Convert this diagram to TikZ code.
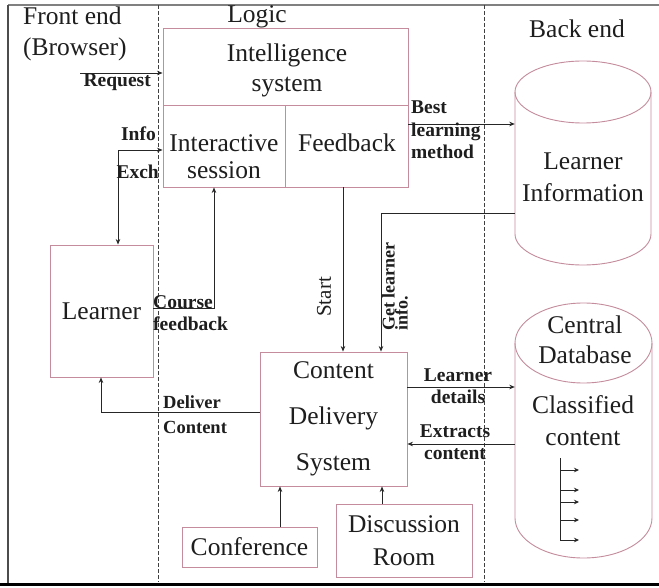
\documentclass[tikz,border=0pt]{standalone}
\usepackage{fontspec}
\setmainfont{Liberation Serif}
\usetikzlibrary{arrows.meta}
\definecolor{boxc}{RGB}{196,140,156}
\definecolor{txt}{RGB}{30,30,30}
\begin{document}
\begin{tikzpicture}[x=1pt,y=-1pt,
  box/.style={draw=boxc, line width=0.9pt, inner sep=0pt, text=txt},
  big/.style={font=\fontsize{25.5}{30}\selectfont, text=txt, inner sep=0pt, align=center},
  lbl/.style={font=\bfseries\fontsize{19.5}{22.5}\selectfont, text=txt, inner sep=0pt},
  conn/.style={draw=black!85, line width=0.9pt},
  arr/.style={conn, -{Stealth[length=5.5pt,width=4.5pt]}},
  cyl/.style={draw=boxc, line width=0.9pt},
  sep/.style={draw=black!75, line width=0.8pt, dash pattern=on 4pt off 2pt}]
\useasboundingbox (0,0) rectangle (659,588);
\fill[white] (0,0) rectangle (659,588);
% frame
\draw[gray, line width=1.6pt] (8,5) -- (659,5);
\draw[black!70, line width=1.2pt] (8,5) -- (8,583);
\draw[black, line width=3pt] (0,584) -- (659,584);
% swimlane separators
\draw[sep] (158,5) -- (158,582);
\draw[sep] (484,5) -- (484,582);
% headers
\node[big, anchor=west, align=left] (hfront) at (23,34) {Front end\\[1pt](Browser)};
\node[big] (hlogic) at (257,17) {Logic};
\node[big] (hback) at (577,29) {Back end};
% intelligence system
\node[box, minimum width=245pt, minimum height=77pt] (intel) at (285.5,66.5) {};
\node[big] (inteltxt) at (287,70) {Intelligence\\system};
\node[box, minimum width=122pt, minimum height=82pt] (isess) at (224,146) {};
\node[big, font=\fontsize{25.5}{27}\selectfont] (isesstxt) at (224,157) {Interactive\\session};
\node[box, minimum width=123pt, minimum height=82pt] (fb) at (346.5,146) {};
\node[big] (fbtxt) at (347,143) {Feedback};
% learner
\node[box, minimum width=103pt, minimum height=132pt, font=\fontsize{25.5}{30}\selectfont] (learner) at (101.5,311) {Learner};
% content delivery system
\node[box, minimum width=147pt, minimum height=134pt, align=center, font=\fontsize{25.5}{46}\selectfont] (cds) at (333.5,419) {Content\\Delivery\\System};
\node[box, minimum width=135pt, minimum height=40pt, font=\fontsize{25.5}{30}\selectfont] (conf) at (249.5,547) {Conference};
\node[box, minimum width=136pt, minimum height=73pt, align=center, font=\fontsize{25.5}{33}\selectfont] (disc) at (404,540.5) {Discussion\\Room};
% cylinder: learner information
\draw[cyl] (515,92) -- (515,234) arc[start angle=180, end angle=0, x radius=68, y radius=31] -- (651,92);
\draw[cyl] (583,92) ellipse [x radius=68, y radius=31];
\node[minimum width=136pt, minimum height=205pt, inner sep=0pt] (li) at (583,162.5) {};
\node[big, font=\fontsize{25.5}{32}\selectfont] (litxt) at (583,177) {Learner\\Information};
% cylinder: central database
\draw[cyl] (515,343) -- (515,518) arc[start angle=180, end angle=0, x radius=68.5, y radius=40] -- (652,343);
\draw[cyl] (583.5,343) ellipse [x radius=68.5, y radius=40];
\node[minimum width=137pt, minimum height=255pt, inner sep=0pt] (cdb) at (583.5,430.5) {};
\node[big] (cdbtop) at (585,340) {Central\\Database};
\node[big, font=\fontsize{25.5}{32}\selectfont] (cdbtxt) at (583,421) {Classified\\content};
% classified content arrows
\draw[conn, line width=0.8pt] (560,458) -- (560,540);
\foreach \yy in {470,490,502,520,540}
  \draw[conn, line width=0.8pt, -{Stealth[length=5pt,width=4.5pt]}] (560,\yy) -- (579,\yy);
% coordinates for connector bends
\coordinate (req) at (80,73);
\coordinate (ie) at (118,150);
\coordinate (cf) at (214,308);
\coordinate (st) at (343,0);
\coordinate (gl) at (381,213);
\coordinate (bl) at (0,124);
\coordinate (ld) at (0,387);
\coordinate (ex) at (0,444);
\coordinate (dc) at (101,412);
\coordinate (cfx) at (280,0);
\coordinate (drx) at (382,0);
% connectors
\draw[arr] (req) -- (intel.west |- req);
\draw[conn, {Stealth[length=5.5pt,width=4.5pt]}-{Stealth[length=5.5pt,width=4.5pt]}] (learner.north -| ie) -- (ie) -- (isess.west |- ie);
\draw[arr] (learner.east |- cf) -- (cf) -- (isess.south -| cf);
\draw[arr] (fb.south -| st) -- (cds.north -| st);
\draw[arr] (li.west |- gl) -- (gl) -- (cds.north -| gl);
\draw[arr] (fb.east |- bl) -- (li.west |- bl);
\draw[arr] (cds.east |- ld) -- (cdb.west |- ld);
\draw[arr] (cdb.west |- ex) -- (cds.east |- ex);
\draw[arr] (cds.west |- dc) -- (dc) -- (learner.south -| dc);
\draw[arr] (conf.north -| cfx) -- (cds.south -| cfx);
\draw[arr] (disc.north -| drx) -- (cds.south -| drx);
% connector labels
\node[lbl, anchor=east] (lreq) at (151,82) {Request};
\node[lbl, anchor=east] (linfo) at (156,134) {Info};
\node[lbl, anchor=east] (lexch) at (159,172) {Exch};
\node[lbl, anchor=west, align=left] (lcf) at (153,313) {Course\\feedback};
\node[lbl, font=\fontsize{21}{24}\selectfont, rotate=90] (lstart) at (324,297) {Start};
\node[lbl, anchor=north west, align=left, rotate=90, font=\bfseries\fontsize{18}{13}\selectfont] (lgl) at (382,331) {Get learner\\info.};
\node[lbl, anchor=west, align=left] (lbl) at (411,130) {Best\\learning\\method};
\node[lbl, align=center] (lld) at (458,386) {Learner\\details};
\node[lbl, align=center] (lex) at (455,442) {Extracts\\content};
\node[lbl, anchor=west, align=left, font=\bfseries\fontsize{18.5}{25}\selectfont] (ldc) at (163,415) {Deliver\\Content};
\end{tikzpicture}
\end{document}
